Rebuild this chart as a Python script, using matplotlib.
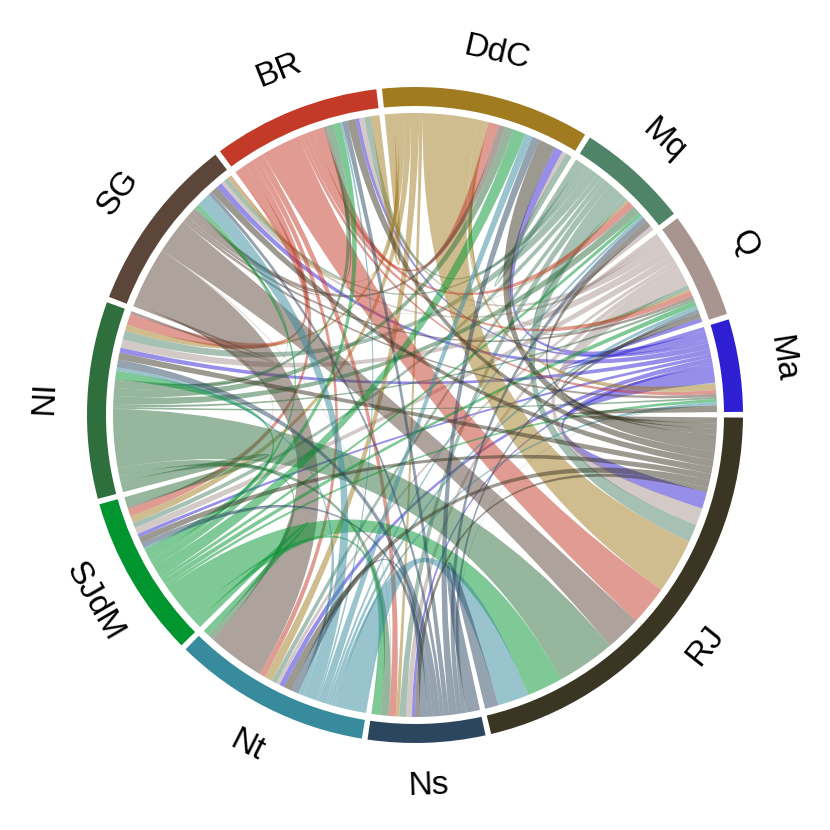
import numpy as np
import matplotlib
matplotlib.use('Agg')
import matplotlib.pyplot as plt
from matplotlib.patches import PathPatch, Wedge
from matplotlib.path import Path

names = ['Ma', 'Q', 'Mq', 'DdC', 'BR', 'SG', 'NI', 'SJdM', 'Nt', 'Ns', 'RJ']
colors = ['#2E1FD3', '#A99590', '#4F8469', '#A07B20', '#C33A28', '#5C463A',
          '#2F6F3D', '#00952E', '#378B9C', '#2D4660', '#3A3623']

# flows, one list per origin, same order as names
from_Ma = [0, 0.8, 0.1, 1.6, 0.7, 1.1, 1.0, 0.7, 1.0, 0.6, 3.2]
from_Q = [0.1, 0, 0.8, 0.8, 1.0, 0.7, 1.6, 1.3, 0.7, 1.1, 3.3]
from_Mq = [0.1, 0.8, 0, 1.2, 1.2, 0.8, 1.7, 1.0, 0.9, 1.3, 3.4]
from_DdC = [1.2, 0.4, 0.4, 0, 1.7, 0.8, 1.2, 1.3, 1.6, 0.7, 10.6]
from_BR = [0.7, 1.0, 1.3, 2.0, 0, 0.1, 2.2, 1.5, 1.1, 1.3, 7.6]
from_SG = [0.6, 0.6, 0.1, 1.3, 0.6, 0, 0.5, 0.3, 11.0, 0.1, 6.8]
from_NI = [0.4, 0.5, 1.5, 1.6, 1.3, 0.4, 0, 2.0, 1.2, 1.5, 11.3]
from_SJdM = [0.6, 1.0, 0.7, 2.4, 1.4, 0.8, 1.5, 0, 1.2, 1.7, 6.9]
from_Nt = [0.6, 0.7, 0.5, 1.5, 0.4, 2.7, 0.7, 0.3, 0, 0.05, 6.0]
from_Ns = [0.1, 0.7, 1.0, 1.5, 1.0, 0.7, 1.5, 1.0, 1.4, 0, 2.6]
from_RJ = [1.2, 1.0, 1.1, 3.2, 1.6, 1.4, 1.3, 1.2, 1.5, 0.9, 0]

flows = np.array([from_Ma, from_Q, from_Mq, from_DdC, from_BR, from_SG,
                  from_NI, from_SJdM, from_Nt, from_Ns, from_RJ])

n = len(names)
gap = 1.0
start = 0.55
r_outer, r_inner, r_link = 328, 309, 302
# every flow takes room twice, at its origin and at its destination
scale = (360 - n * gap) / (2 * flows.sum())


def pt(angle, r=r_link):
    a = np.radians(angle)
    return (r * np.cos(a), r * np.sin(a))


# walk round the circle: per sector incoming slots first, then outgoing
in_slot = {}
out_slot = {}
sectors = []
pos = start
for i in range(n):
    s0 = pos
    others = [(i - k) % n for k in range(1, n)]
    for o in others:
        w = flows[o, i] * scale
        in_slot[(o, i)] = (pos, pos + w)
        pos += w
    for o in others:
        w = flows[i, o] * scale
        out_slot[(i, o)] = (pos, pos + w)
        pos += w
    sectors.append((s0, pos))
    pos += gap


def ribbon(s, d):
    verts = []
    codes = []
    ss = np.linspace(s[0], s[1], 12)
    for k, a in enumerate(ss):
        verts.append(pt(a))
        codes.append(Path.MOVETO if k == 0 else Path.LINETO)
    verts += [(0, 0), pt(d[0])]
    codes += [Path.CURVE3, Path.CURVE3]
    for a in np.linspace(d[0], d[1], 12)[1:]:
        verts.append(pt(a))
        codes.append(Path.LINETO)
    verts += [(0, 0), pt(s[0])]
    codes += [Path.CURVE3, Path.CURVE3]
    return Path(verts, codes)


fig = plt.figure(figsize=(8.3, 8.3), dpi=100)
ax = fig.add_axes([0, 0, 1, 1])
ax.set_xlim(-415, 415)
ax.set_ylim(-415, 415)
ax.set_aspect('equal')
ax.axis('off')

for i in range(n):
    for j in range(n):
        if i == j or flows[i, j] == 0:
            continue
        ax.add_patch(PathPatch(ribbon(out_slot[(i, j)], in_slot[(i, j)]),
                               facecolor=colors[i], edgecolor='none', alpha=0.5))

for i in range(n):
    a0, a1 = sectors[i]
    ax.add_patch(Wedge((0, 0), r_outer, a0, a1, width=r_outer - r_inner,
                       facecolor=colors[i], edgecolor='none'))
    mid = (a0 + a1) / 2
    rot = mid - 90 if mid < 180 else mid + 90
    x, y = pt(mid, 371)
    ax.text(x, y, names[i], rotation=rot, ha='center', va='center',
            rotation_mode='anchor', fontsize=24, family='Liberation Sans')

fig.savefig('out.png', dpi=100)
